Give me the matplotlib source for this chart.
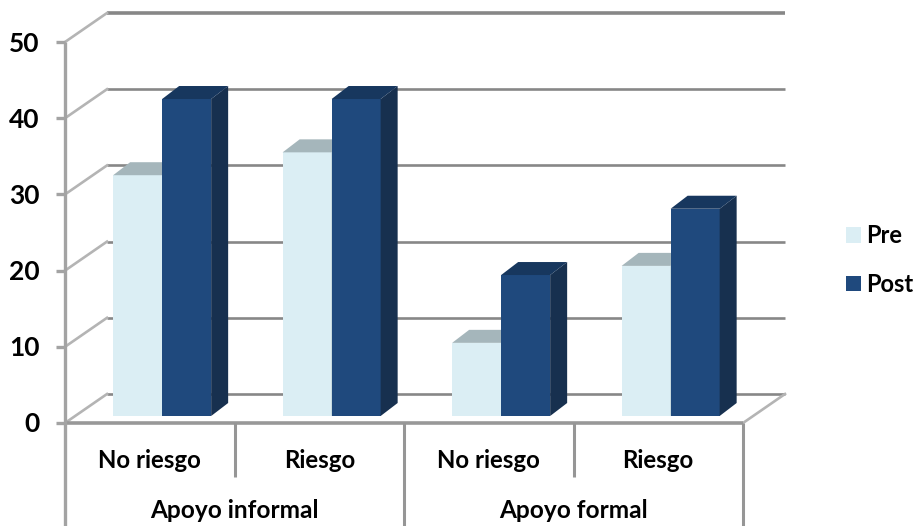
import matplotlib
matplotlib.use('Agg')
import matplotlib.pyplot as plt
from matplotlib.patches import Polygon, Patch

groups = ['Apoyo informal', 'Apoyo formal']
categories = ['No riesgo', 'Riesgo', 'No riesgo', 'Riesgo']
pre = [31.6, 34.6, 9.6, 19.7]
post = [41.6, 41.6, 18.5, 27.2]
y_ticks = [0, 10, 20, 30, 40, 50]

W, H = 916, 526
X0, Y0 = 65, 423      # front corner of the chart floor, in pixels
CAT_W = 169.5         # pixels per category
UNIT = 7.62           # pixels per y unit

plt.rcParams['font.family'] = ['Lato', 'DejaVu Sans']
fig = plt.figure(figsize=(W / 100, H / 100), dpi=100)
ax = fig.add_axes([0, 0, 1, 1])
ax.set_xlim(-X0 / CAT_W, (W - X0) / CAT_W)
ax.set_ylim(-(H - Y0) / UNIT, Y0 / UNIT)
ax.axis('off')

# helpers: pixel distances to data distances
px = lambda v: v / CAT_W
py = lambda v: v / UNIT

n = len(categories)
wall_dx, wall_dy = px(42), py(29)
bar_w = px(49)
bar_shift = px(12.4)
bar_floor = py(7)
depth_dx, depth_dy = px(17), py(13)

grid_c = '#878787'
axis_c = '#a3a3a3'
text_c = '#000000'

# back wall and side wall lines
for v in y_ticks:
    lw = 2.6 if v == 50 else 1.9
    ax.plot([wall_dx, n + wall_dx], [v + wall_dy, v + wall_dy], color=grid_c, lw=lw, zorder=1,
            solid_capstyle='butt')
    ax.plot([0, wall_dx], [v, v + wall_dy], color='#b4b4b4', lw=1.9, zorder=1)
    ax.plot([-px(9), 0], [v, v], color=axis_c, lw=2.4, zorder=3, solid_capstyle='butt')
    ax.text(-px(25.5), v - py(1.5), str(v), ha='right', va='center', fontsize=19, fontweight='bold',
            color=text_c)
ax.plot([n, n + wall_dx], [0, wall_dy], color='#b4b4b4', lw=1.9, zorder=1)


def draw_bars(vals, left_off, face, side, top):
    lefts = [i + 0.5 + bar_shift + left_off for i in range(n)]
    ax.bar(lefts, vals, width=bar_w, bottom=bar_floor, align='edge', color=face, zorder=2)
    for x, v in zip(lefts, vals):
        t = bar_floor + v
        r = x + bar_w
        ax.add_patch(Polygon([(r, bar_floor), (r + depth_dx, bar_floor + depth_dy),
                              (r + depth_dx, t + depth_dy), (r, t)],
                             closed=True, fc=side, ec='none', zorder=2))
        ax.add_patch(Polygon([(x, t), (x + depth_dx, t + depth_dy),
                              (r + depth_dx, t + depth_dy), (r, t)],
                             closed=True, fc=top, ec='none', zorder=2))


draw_bars(pre, -bar_w, '#dbeef4', '#a5b6bb', '#a5b6bb')
draw_bars(post, 0, '#1f497d', '#17304f', '#17375e')

# front axes and the two-level category dividers
ax.plot([0, n], [0, 0], color='#989898', lw=2.6, zorder=3, solid_capstyle='butt')
ax.plot([0, 0], [-py(H - Y0), 50], color=axis_c, lw=2.4, zorder=3, solid_capstyle='butt')
for x, y_end in [(1, -py(54)), (2, -py(H - Y0)), (3, -py(54)), (4, -py(H - Y0))]:
    ax.plot([x, x], [0, y_end], color='#969696', lw=2.2, zorder=3, solid_capstyle='butt')

for i, c in enumerate(categories):
    ax.text(i + 0.5, -py(37), c, ha='center', va='center', fontsize=17.3, fontweight='bold',
            color=text_c)
for i, g in enumerate(groups):
    ax.text(2 * i + 1, -py(87), g, ha='center', va='center', fontsize=17.6, fontweight='bold',
            color=text_c)

handles = [Patch(fc='#dbeef4', label='Pre'), Patch(fc='#1f497d', label='Post')]
ax.legend(handles=handles, loc='center left', bbox_to_anchor=(846 / W, 1 - 260 / H), frameon=False,
          borderaxespad=0, borderpad=0, handlelength=0.64, handleheight=0.64, handletextpad=0.2,
          labelspacing=1.1, prop={'size': 17, 'weight': 'bold'}, labelcolor=text_c)

fig.savefig('out.png', dpi=100)
